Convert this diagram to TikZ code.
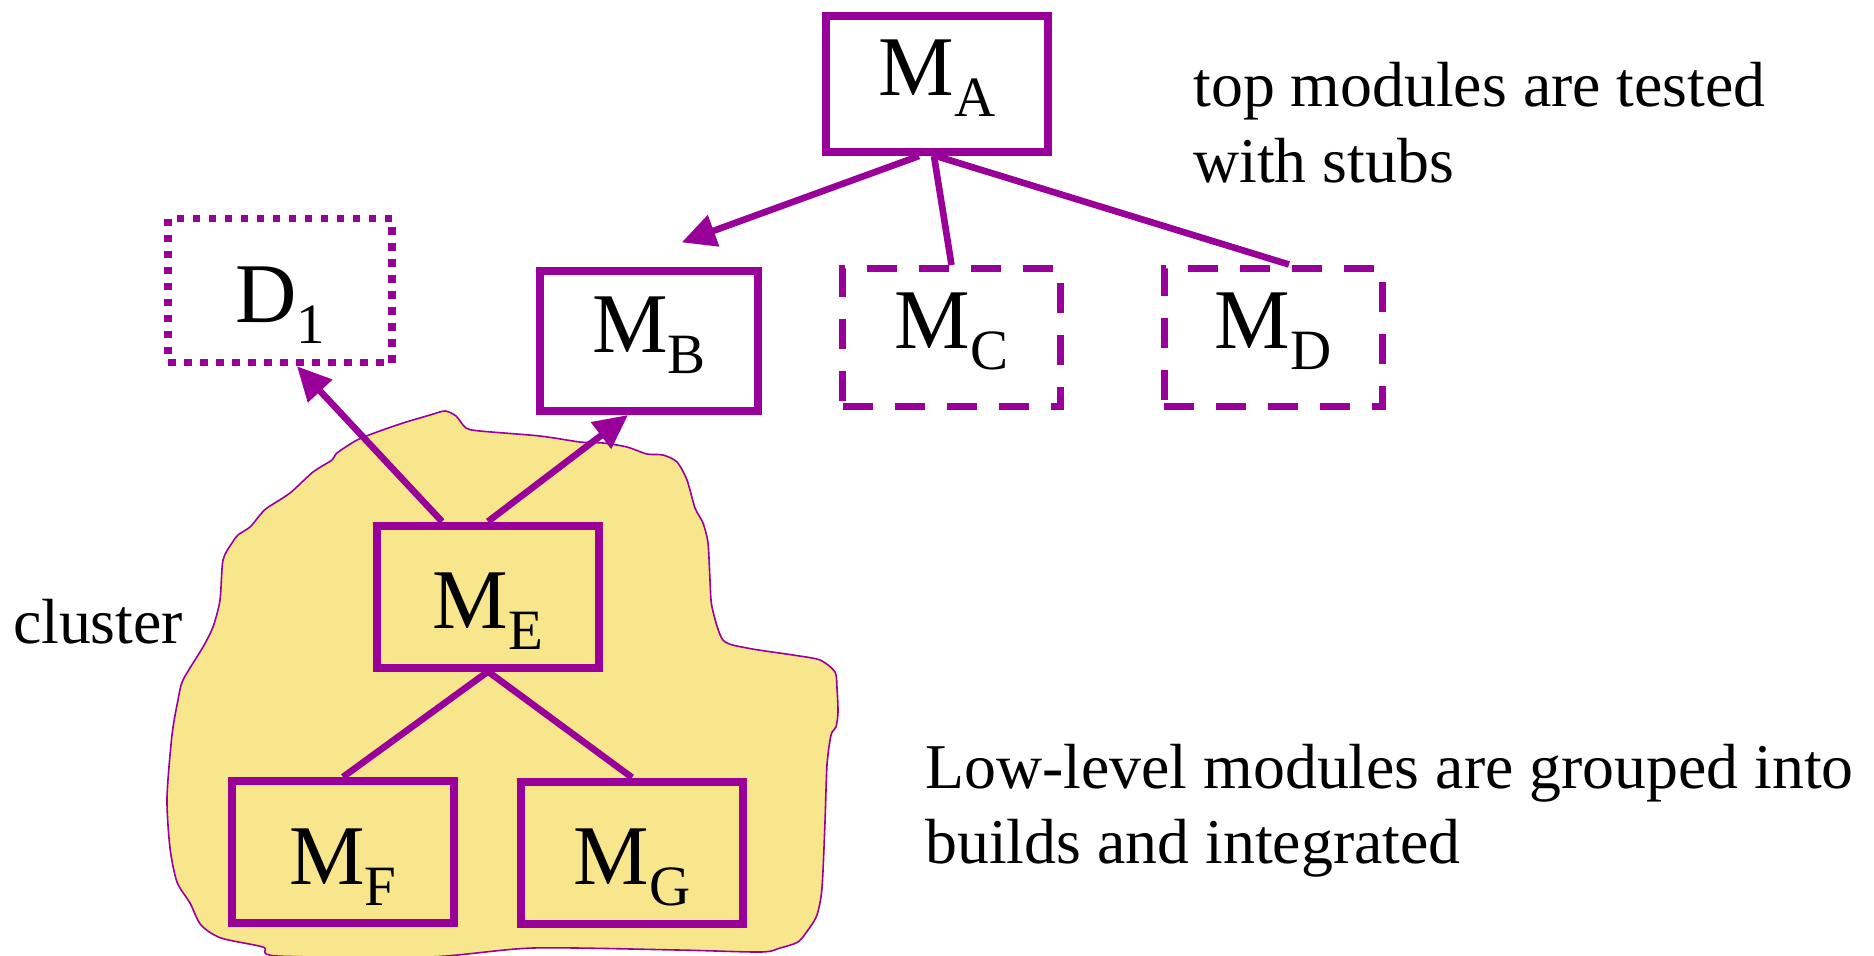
\documentclass[tikz,border=0pt]{standalone}
\usepackage{fontspec}
\setmainfont{Liberation Serif}
\usetikzlibrary{arrows.meta}
\definecolor{modpurple}{RGB}{153,0,153}
\definecolor{clusteryellow}{RGB}{247,230,140}
% module name with a lowered, smaller index
\newcommand\modname[2]{{\fontsize{42.5pt}{42.5pt}\selectfont #1}\raisebox{-10.5pt}{\fontsize{28.5pt}{28.5pt}\selectfont #2}}

\begin{document}
\begin{tikzpicture}[x=0.5pt,y=-0.5pt,
  modbase/.style={draw=modpurple, inner sep=0pt, line width=4pt,
    minimum width=111pt, minimum height=68pt},
  uprow/.style={text height=22pt, text depth=11pt},
  lowrow/.style={text height=34pt, text depth=2pt},
  stubbox/.style={modbase, line width=3.5pt, dash pattern=on 15pt off 11pt,
    minimum width=109pt, minimum height=69pt},
  driverbox/.style={modbase, line width=3.75pt, dash pattern=on 3.75pt off 4.25pt,
    minimum width=112pt, minimum height=72pt},
  link/.style={draw=modpurple, line width=3.3pt},
  callarrow/.style={link, -{Triangle[length=17pt,width=16pt]}},
  note/.style={inner sep=0pt, anchor=base west, font=\fontsize{31.9pt}{38pt}\selectfont},
]
\useasboundingbox (0,0) rectangle (1874,955);

% the cluster region
\draw[draw=modpurple, line width=0.8pt, fill=clusteryellow]
  plot[smooth cycle, tension=0.45] coordinates {
  (445,411) (456,416) (466,428) (480,431) (540,436) (580,442) (603,443)
  (627,447) (647,454) (663,455) (677,462) (687,480) (695,508) (703,523)
  (708,543) (710,580) (712,607) (723,640) (747,648) (793,655) (820,660)
  (835,672) (837,688) (838,712) (836,727) (831,735) (827,765) (825,822)
  (822,888) (817,915) (808,930) (798,942) (780,948) (761,952) (678,950)
  (533,948) (429,957) (277,956) (263,947) (221,938) (201,925) (190,903)
  (177,882) (170,848) (167,798) (172,735) (178,700) (183,680) (203,647)
  (213,627) (220,600) (223,560) (232,543) (238,535) (250,527) (260,515)
  (267,508) (290,493) (313,472) (332,460) (337,453) (357,440) (377,432)
  (403,423) (430,415)};

% modules
\node[modbase, uprow] (MA) at (937,84) {\modname{M}{A}};
\node[modbase, uprow, minimum width=109pt, minimum height=70pt] (MB) at (649,341) {\modname{M}{B}};
\node[stubbox, uprow] (MC) at (951.5,337.5) {\modname{M}{C}};
\node[stubbox, uprow] (MD) at (1273,337) {\modname{M}{D}};
\node[driverbox, lowrow] (D1) at (280,290.5) {\modname{D}{1}};
\node[modbase, lowrow, minimum height=71pt] (ME) at (488,596.5) {\modname{M}{E}};
\node[modbase, lowrow, minimum height=71pt] (MF) at (343,852) {\modname{M}{F}};
\node[modbase, lowrow, minimum height=71pt] (MG) at (632,852.5) {\modname{M}{G}};

% calls
\draw[callarrow, shorten >=36pt] ([xshift=-9pt]MA.south) -- ([xshift=-17.5pt]MB.north);
\draw[link] ([xshift=-1.5pt]MA.south) -- (MC.north);
\draw[link] ([xshift=-0.5pt]MA.south) -- ([xshift=8pt]MD.north);
\draw[callarrow] ([xshift=-23pt]ME.north) -- ([xshift=8.5pt]D1.south);
\draw[callarrow] (ME.north) -- ([xshift=-10.5pt]MB.south);
\draw[link] (ME.south) -- (MF.north);
\draw[link] (ME.south) -- (MG.north);

% notes
\node[note] (clusterlbl) at (12.6,643.5) {cluster};
\node[note] (topnote1) at (1193,106.6) {top modules are tested};
\node[note] (topnote2) at (1193,182) {with stubs};
\node[note] (lownote1) at (925,788) {Low-level modules are grouped into};
\node[note] (lownote2) at (925,863) {builds and integrated};
\end{tikzpicture}
\end{document}
